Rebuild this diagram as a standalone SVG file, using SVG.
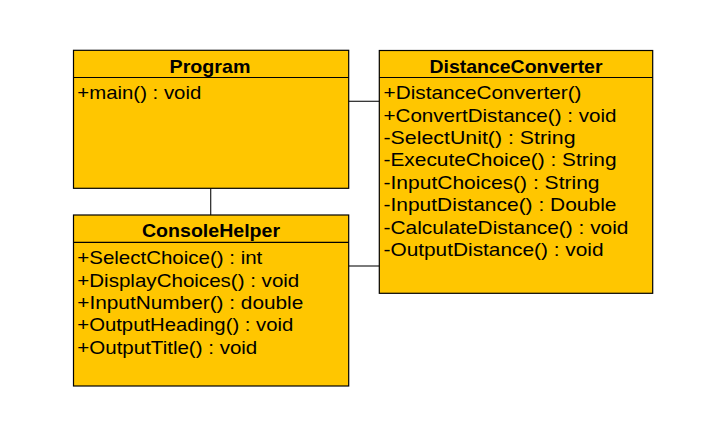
<svg xmlns="http://www.w3.org/2000/svg" width="718" height="447" viewBox="0 0 718 447">
<style>
.box{fill:#FFC600;stroke:#000;stroke-width:1.2}
.sep{stroke:#000;stroke-width:1.2}
.t{font-family:"Liberation Sans",Arial,sans-serif;font-size:19px;font-weight:bold;text-anchor:middle;fill:#000}
.m{font-family:"Liberation Sans",Arial,sans-serif;font-size:18.5px;fill:#000}
.c{stroke:#222;stroke-width:1.2;fill:none}
</style>
<rect width="718" height="447" fill="#fff"/>
<g id="connectors">
<line class="c" x1="348.7" y1="101.3" x2="379.3" y2="101.3"/>
<line class="c" x1="210.7" y1="188.3" x2="210.7" y2="215"/>
<line class="c" x1="348.7" y1="266" x2="379.3" y2="266"/>
</g>
<g id="Program">
<rect class="box" x="73.5" y="50.3" width="275.2" height="138"/>
<line class="sep" x1="73.5" y1="77.5" x2="348.7" y2="77.5"/>
<text class="t" x="210" y="73.3" textLength="81" lengthAdjust="spacingAndGlyphs">Program</text>
<text class="m" x="77.3" y="99.3" textLength="124" lengthAdjust="spacingAndGlyphs">+main() : void</text>
</g>
<g id="DistanceConverter">
<rect class="box" x="379.3" y="50.5" width="273.4" height="242.8"/>
<line class="sep" x1="379.3" y1="77.5" x2="652.7" y2="77.5"/>
<text class="t" x="516" y="73.3" textLength="173" lengthAdjust="spacingAndGlyphs">DistanceConverter</text>
<text class="m" x="383.5" y="99.3" textLength="198" lengthAdjust="spacingAndGlyphs">+DistanceConverter()</text>
<text class="m" x="383.5" y="121.6" textLength="233" lengthAdjust="spacingAndGlyphs">+ConvertDistance() : void</text>
<text class="m" x="383.5" y="144" textLength="192" lengthAdjust="spacingAndGlyphs">-SelectUnit() : String</text>
<text class="m" x="383.5" y="166.4" textLength="233" lengthAdjust="spacingAndGlyphs">-ExecuteChoice() : String</text>
<text class="m" x="383.5" y="188.8" textLength="216" lengthAdjust="spacingAndGlyphs">-InputChoices() : String</text>
<text class="m" x="383.5" y="211.2" textLength="233" lengthAdjust="spacingAndGlyphs">-InputDistance() : Double</text>
<text class="m" x="383.5" y="233.6" textLength="245" lengthAdjust="spacingAndGlyphs">-CalculateDistance() : void</text>
<text class="m" x="383.5" y="256" textLength="220" lengthAdjust="spacingAndGlyphs">-OutputDistance() : void</text>
</g>
<g id="ConsoleHelper">
<rect class="box" x="73.5" y="215" width="275.2" height="171"/>
<line class="sep" x1="73.5" y1="242.3" x2="348.7" y2="242.3"/>
<text class="t" x="211" y="236.7" textLength="138" lengthAdjust="spacingAndGlyphs">ConsoleHelper</text>
<text class="m" x="77.3" y="264.3" textLength="185" lengthAdjust="spacingAndGlyphs">+SelectChoice() : int</text>
<text class="m" x="77.3" y="286.6" textLength="222" lengthAdjust="spacingAndGlyphs">+DisplayChoices() : void</text>
<text class="m" x="77.3" y="309" textLength="226" lengthAdjust="spacingAndGlyphs">+InputNumber() : double</text>
<text class="m" x="77.3" y="331.3" textLength="216" lengthAdjust="spacingAndGlyphs">+OutputHeading() : void</text>
<text class="m" x="77.3" y="353.6" textLength="180" lengthAdjust="spacingAndGlyphs">+OutputTitle() : void</text>
</g>
</svg>
